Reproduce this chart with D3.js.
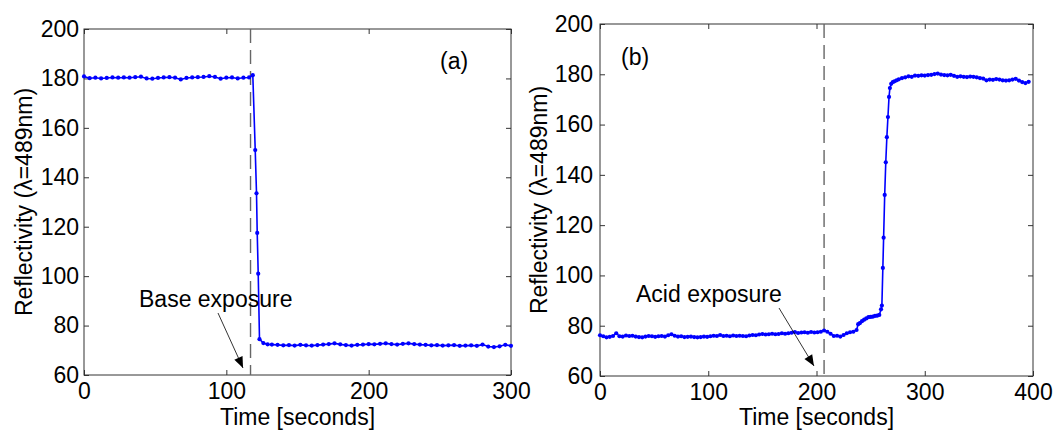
<!DOCTYPE html>
<html>
<head>
<meta charset="utf-8">
<script src="https://cdn.jsdelivr.net/npm/d3@7"></script>
<style>
  body { margin: 0; background: #fff; }
  svg text { font-family: "Liberation Sans", Arial, sans-serif; fill: #000; }
</style>
</head>
<body>
<svg id="chart" width="1061" height="430"></svg>
<script>
// ---- data ------------------------------------------------------------------

// panel (a): base exposure
var timesA = [0, 4, 8, 12, 16, 20, 24, 28, 32, 36, 40, 44, 48, 52, 56, 60, 64, 68, 72, 76,
  80, 84, 88, 92, 96, 100, 104, 108, 112, 116, 118.6, 120.3, 121.2, 121.7, 122.4, 123.3, 126,
  129, 132, 136, 140, 144, 148, 152, 156, 160, 164, 168, 172, 176, 180, 184, 188, 192, 196,
  200, 204, 208, 212, 216, 220, 224, 228, 232, 236, 240, 244, 248, 252, 256, 260, 264, 268,
  272, 276, 280, 284, 288, 292, 296, 300];
var reflA = [180.8, 180.1, 180.3, 180.0, 180.2, 180.4, 180.3, 180.4, 180.3, 180.5, 180.7, 180.0,
  179.9, 180.2, 180.4, 180.5, 180.3, 179.6, 180.2, 180.4, 180.5, 180.6, 180.9, 180.6, 179.9,
  180.3, 180.4, 180.0, 180.3, 180.4, 181.3, 151, 133.5, 117.5, 101, 74.5, 72.9,
  72.4, 72.3, 72.2, 72.0, 72.1, 71.9, 72.2, 72.0, 71.9, 72.1, 72.3, 72.5, 72.8, 72.4, 72.1,
  71.9, 72.2, 72.3, 72.5, 72.4, 72.6, 72.8, 72.5, 72.3, 72.6, 72.8, 72.5, 72.3, 72.2, 72.0,
  72.1, 71.9, 72.0, 72.1, 71.8, 71.9, 72.0, 71.8, 72.3, 71.5, 71.3, 71.6, 72.2, 71.8];

// panel (b): acid exposure
var timesB = [0, 3, 6, 9, 12, 15, 18, 21, 24, 27, 30, 33, 36, 39, 42, 45, 48, 51, 54, 57,
  60, 63, 66, 69, 72, 75, 78, 81, 84, 87, 90, 93, 96, 99, 102, 105, 108, 111, 114, 117,
  120, 123, 126, 129, 132, 135, 138, 141, 144, 147, 150, 153, 156, 159, 162, 165, 168, 171,
  174, 177, 180, 183, 186, 189, 192, 195, 198, 201, 204, 207, 210, 213, 216, 219, 222, 225,
  228, 231, 234, 237, 238.5, 240, 242, 244, 246, 248, 250, 252, 254, 256, 258, 259.6, 260.4,
  261.3, 262, 263, 264, 265, 266, 267, 267.8, 269, 270.5, 272, 274, 276, 279, 282, 285, 288,
  291, 294, 297, 300, 303, 306, 309, 312, 315, 318, 321, 324, 327, 330, 333, 336, 339, 342,
  345, 348, 351, 354, 357, 360, 363, 366, 369, 372, 375, 378, 381, 384, 387, 390, 393, 396];
var reflB = [76.2, 75.8, 75.4, 75.6, 75.9, 77.0, 75.8, 75.7, 76.1, 75.9, 76.0, 75.7, 75.5, 75.4,
  75.7, 75.9, 75.8, 75.6, 75.8, 75.9, 75.7, 76.2, 76.6, 76.0, 75.7, 75.8, 75.5, 75.6, 75.7,
  75.5, 75.4, 75.5, 75.7, 75.6, 75.8, 76.0, 75.9, 76.3, 75.9, 76.0, 75.8, 76.1, 75.9, 76.0,
  75.9, 75.8, 76.1, 76.3, 76.2, 76.5, 76.7, 76.5, 76.6, 76.8, 76.6, 76.7, 77.0, 76.8, 77.0,
  77.2, 77.5, 77.1, 77.3, 77.4, 77.2, 77.5, 77.3, 77.4, 77.6, 78.1, 77.6, 76.8, 75.9, 76.0,
  75.7, 76.3, 77.0, 77.4, 77.6, 78.3, 80.6, 81.0, 81.8, 82.4, 82.9, 83.4, 83.5, 83.6, 83.9,
  84.0, 84.3, 86.5, 88.0, 103, 115, 132, 145, 155, 163, 171, 174.5, 176.2, 176.9, 177.2,
  177.6, 178.0, 178.5, 178.8, 179.2, 179.0, 179.5, 179.4, 179.6, 179.5, 179.7, 179.8, 180.1,
  180.3, 179.9, 179.7, 179.6, 179.8, 179.4, 179.0, 179.2, 179.0, 178.9, 179.1, 179.0, 178.8,
  178.5, 178.3, 177.6, 177.9, 177.8, 178.1, 177.9, 177.6, 177.5, 177.6, 177.9, 178.2, 177.5,
  176.9, 176.5, 177.0];

var yTicks = [60, 80, 100, 120, 140, 160, 180, 200];
var xTicksA = [0, 100, 200, 300];
var xTicksB = [0, 100, 200, 300, 400];
var exposureA = 117;
var exposureB = 207;

// ============================================================================

var svg = d3.select("#chart");
var fs = "23px";

function drawPanel(p) {
    var x = d3.scaleLinear().domain(p.xDomain).range([p.left, p.right]);
    var y = d3.scaleLinear().domain([60, 200]).range([p.bottom, p.top]);
    var g = svg.append("g");

    // inward ticks on all four sides, like matlab's box
    g.append("g")
        .attr("transform", `translate(0,${p.bottom})`)
        .call(d3.axisBottom(x).tickValues(p.xTicks).tickSizeInner(-5).tickSizeOuter(0).tickPadding(8))
        .call(ax => ax.selectAll("text").style("font-size", fs));
    g.append("g")
        .attr("transform", `translate(0,${p.top})`)
        .call(d3.axisTop(x).tickValues(p.xTicks).tickSizeInner(-5).tickSizeOuter(0).tickFormat(""));
    g.append("g")
        .attr("transform", `translate(${p.left},0)`)
        .call(d3.axisLeft(y).tickValues(yTicks).tickSizeInner(-5).tickSizeOuter(0).tickPadding(p.yPad))
        .call(ax => ax.selectAll("text").style("font-size", fs));
    g.append("g")
        .attr("transform", `translate(${p.right},0)`)
        .call(d3.axisRight(y).tickValues(yTicks).tickSizeInner(-5).tickSizeOuter(0).tickFormat(""));
    g.selectAll(".domain").remove();
    g.selectAll(".tick line").attr("stroke", "#333");

    g.append("rect")
        .attr("x", p.left).attr("y", p.top)
        .attr("width", p.right - p.left).attr("height", p.bottom - p.top)
        .attr("fill", "none").attr("stroke", "#333").attr("stroke-width", 1);

    // exposure marker
    g.append("line")
        .attr("x1", x(p.exposure)).attr("x2", x(p.exposure))
        .attr("y1", p.top).attr("y2", p.bottom)
        .attr("stroke", "#666").attr("stroke-width", 1.4)
        .attr("stroke-dasharray", "14,7");

    var pts = p.times.map((t, i) => [t, p.vals[i]]);
    g.append("path")
        .datum(pts)
        .attr("fill", "none")
        .attr("stroke", "#0000ff")
        .attr("stroke-width", 1.6)
        .attr("d", d3.line().x(d => x(d[0])).y(d => y(d[1])));
    g.selectAll("circle.pt")
        .data(pts)
        .enter()
        .append("circle")
        .attr("class", "pt")
        .attr("cx", d => x(d[0]))
        .attr("cy", d => y(d[1]))
        .attr("r", 2.1)
        .attr("fill", "#0000ff");

    // labels
    g.append("text")
        .attr("x", (p.left + p.right) / 2).attr("y", 425)
        .attr("text-anchor", "middle").style("font-size", fs)
        .text("Time [seconds]");
    g.append("text")
        .attr("transform", `translate(${p.ylabX},${(p.top + p.bottom) / 2}) rotate(-90)`)
        .attr("text-anchor", "middle").style("font-size", fs)
        .text("Reflectivity (\u03bb=489nm)");
    g.append("text")
        .attr("x", p.tagX).attr("y", p.tagY)
        .style("font-size", fs)
        .text(p.tag);

    // annotation + arrow
    g.append("text")
        .attr("x", p.noteX).attr("y", p.noteY)
        .style("font-size", fs)
        .text(p.note);
    var ax1 = p.arrow[0], ay1 = p.arrow[1], ax2 = p.arrow[2], ay2 = p.arrow[3];
    var ang = Math.atan2(ay2 - ay1, ax2 - ax1);
    g.append("line")
        .attr("x1", ax1).attr("y1", ay1).attr("x2", ax2).attr("y2", ay2)
        .attr("stroke", "#000").attr("stroke-width", 0.8);
    var hl = 11, hw = 4.5;
    var bx = ax2 - hl * Math.cos(ang), by = ay2 - hl * Math.sin(ang);
    g.append("path")
        .attr("d", `M${ax2},${ay2}L${bx - hw * Math.sin(ang)},${by + hw * Math.cos(ang)}` +
            `L${bx + hw * Math.sin(ang)},${by - hw * Math.cos(ang)}Z`)
        .attr("fill", "#000");
}

drawPanel({
    left: 84, right: 511, top: 29, bottom: 375, yPad: 5,
    xDomain: [0, 300], xTicks: xTicksA,
    times: timesA, vals: reflA, exposure: exposureA,
    ylabX: 32, tag: "(a)", tagX: 440, tagY: 69,
    note: "Base exposure", noteX: 139, noteY: 307,
    arrow: [218, 313, 243, 368]
});

drawPanel({
    left: 600, right: 1033, top: 24, bottom: 376, yPad: 7,
    xDomain: [0, 400], xTicks: xTicksB,
    times: timesB, vals: reflB, exposure: exposureB,
    ylabX: 547, tag: "(b)", tagX: 621, tagY: 65,
    note: "Acid exposure", noteX: 636, noteY: 302,
    arrow: [779, 308, 814, 366]
});
</script>
</body>
</html>
